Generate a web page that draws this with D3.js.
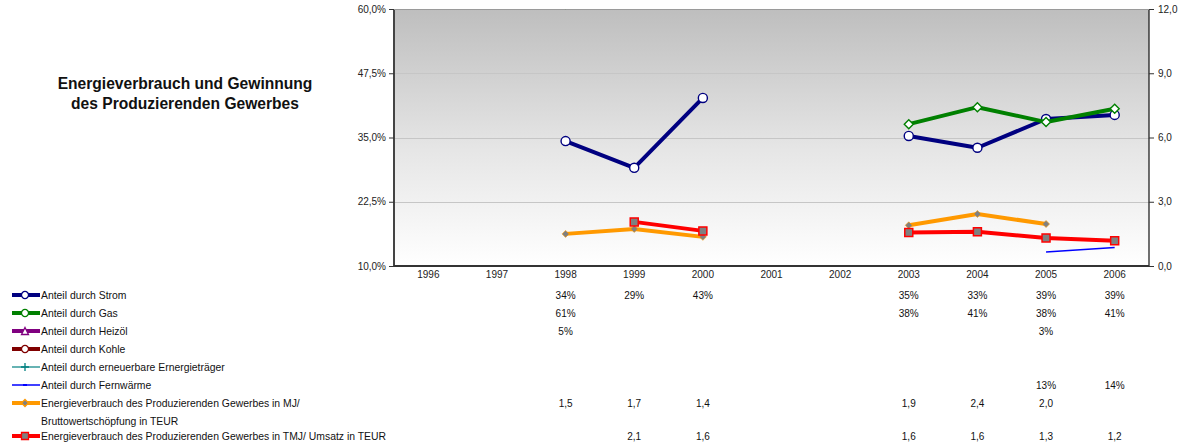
<!DOCTYPE html>
<html>
<head>
<meta charset="utf-8">
<script src="https://cdn.jsdelivr.net/npm/d3@7"></script>
<style>
  body { margin: 0; background: #fff; }
  svg { display: block; font-family: "Liberation Sans", Arial, sans-serif; }
</style>
</head>
<body>
<script>
// data (null = no value)
var years = ['1996', '1997', '1998', '1999', '2000', '2001', '2002', '2003', '2004', '2005', '2006'];
var strom = [null, null, 34.3, 29.1, 42.7, null, null, 35.3, 33.0, 38.6, 39.4];
var gas = [null, null, 61.0, null, null, null, null, 37.6, 40.9, 38.0, 40.6];
var heizoel = [null, null, 5.0, null, null, null, null, null, null, 3.0, null];
var kohle = [null, null, null, null, null, null, null, null, null, null, null];
var erneuerbar = [null, null, null, null, null, null, null, null, null, null, null];
var fernwaerme = [null, null, null, null, null, null, null, null, null, 12.7, 13.6];
var mjBws = [null, null, 1.5, 1.73, 1.36, null, null, 1.9, 2.43, 1.96, null];
var tmjUmsatz = [null, null, null, 2.06, 1.64, null, null, 1.56, 1.6, 1.31, 1.18];
var leftTicks = [10, 22.5, 35, 47.5, 60];
var rightTicks = [0, 3, 6, 9, 12];

var series = [
  { name: ['Anteil durch Strom'], values: strom, axis: 'l', color: '#000080', width: 4, marker: 'circle', mfill: '#fff', fmt: 'pct' },
  { name: ['Anteil durch Gas'], values: gas, axis: 'l', color: '#008000', width: 4, marker: 'diamond', mfill: '#fff', fmt: 'pct' },
  { name: ['Anteil durch Heizöl'], values: heizoel, axis: 'l', color: '#800080', width: 4, marker: 'triangle', mfill: '#fff', fmt: 'pct' },
  { name: ['Anteil durch Kohle'], values: kohle, axis: 'l', color: '#800000', width: 4, marker: 'circle', mfill: '#fff', fmt: 'pct' },
  { name: ['Anteil durch erneuerbare Ernergieträger'], values: erneuerbar, axis: 'l', color: '#008080', width: 1.2, marker: 'plus', mfill: 'none', fmt: 'pct' },
  { name: ['Anteil durch Fernwärme'], values: fernwaerme, axis: 'l', color: '#0000ff', width: 1.5, marker: 'dash', mfill: 'none', fmt: 'pct' },
  { name: ['Energieverbrauch des Produzierenden Gewerbes in MJ/', 'Bruttowertschöpfung in TEUR'], values: mjBws, axis: 'r', color: '#ff9900', width: 4, marker: 'diamond', mfill: '#808080', fmt: 'dec' },
  { name: ['Energieverbrauch des Produzierenden Gewerbes in TMJ/ Umsatz in TEUR'], values: tmjUmsatz, axis: 'r', color: '#ff0000', width: 4, marker: 'square', mfill: '#808080', fmt: 'dec' }
];
var rowY = [295, 313, 331, 349, 367, 385, 403, 436];

var W = 1180, H = 447;
var m = { left: 394, right: 1149, top: 9, bottom: 266 };

var svg = d3.select('body').append('svg')
  .attr('width', W)
  .attr('height', H);

var x = d3.scaleBand().domain(years).range([m.left, m.right]);
var yL = d3.scaleLinear().domain([10, 60]).range([m.bottom, m.top]);
var yR = d3.scaleLinear().domain([0, 12]).range([m.bottom, m.top]);

var defs = svg.append('defs');
var grad = defs.append('linearGradient')
  .attr('id', 'bg')
  .attr('x1', 0).attr('y1', 0).attr('x2', 0).attr('y2', 1);
grad.append('stop').attr('offset', 0).attr('stop-color', '#bebebe');
grad.append('stop').attr('offset', 0.55).attr('stop-color', '#e6e6e6');
grad.append('stop').attr('offset', 1).attr('stop-color', '#ffffff');
defs.append('clipPath').attr('id', 'clip')
  .append('rect')
  .attr('x', m.left).attr('y', m.top)
  .attr('width', m.right - m.left).attr('height', m.bottom - m.top);

// plot background
svg.append('rect')
  .attr('x', m.left).attr('y', m.top)
  .attr('width', m.right - m.left).attr('height', m.bottom - m.top)
  .attr('fill', 'url(#bg)');

// grid
svg.append('g').selectAll('line')
  .data(leftTicks.slice(1))
  .enter().append('line')
  .attr('x1', m.left).attr('x2', m.right)
  .attr('y1', function (d) { return Math.round(yL(d)) + 0.5; })
  .attr('y2', function (d) { return Math.round(yL(d)) + 0.5; })
  .attr('stroke', '#c6c6c6')
  .attr('stroke-width', 1);

// axes
var fmtL = function (d) { return d3.format('.1f')(d).replace('.', ',') + '%'; };
var fmtR = function (d) { return d3.format('.1f')(d).replace('.', ','); };

var axL = svg.append('g')
  .attr('transform', 'translate(' + m.left + ',0)')
  .call(d3.axisLeft(yL).tickValues(leftTicks).tickFormat(fmtL).tickSize(5).tickPadding(3));
var axR = svg.append('g')
  .attr('transform', 'translate(' + m.right + ',0)')
  .call(d3.axisRight(yR).tickValues(rightTicks).tickFormat(fmtR).tickSize(5).tickPadding(4));
var axB = svg.append('g')
  .attr('transform', 'translate(0,' + m.bottom + ')')
  .call(d3.axisBottom(x).tickSize(0).tickPadding(5));

[axL, axR, axB].forEach(function (g) {
  g.selectAll('text')
    .attr('font-size', 10)
    .attr('font-family', '"Liberation Sans", Arial, sans-serif')
    .attr('fill', '#222');
  g.selectAll('line').attr('stroke', '#333');
});
axL.select('.domain').attr('stroke', '#444').attr('stroke-width', 2).attr('d', 'M0,' + m.top + 'V' + m.bottom);
axR.select('.domain').attr('stroke', '#111').attr('stroke-width', 1.2).attr('d', 'M0,' + m.top + 'V' + m.bottom);
axB.select('.domain').attr('stroke', '#333').attr('stroke-width', 2).attr('d', 'M' + m.left + ',0H' + m.right);
svg.append('line')
  .attr('x1', m.left).attr('x2', m.right)
  .attr('y1', m.top + 0.5).attr('y2', m.top + 0.5)
  .attr('stroke', '#9a9a9a');

// markers
function markerPath(type, s) {
  if (type === 'circle') return d3.symbol(d3.symbolCircle, s * s * 0.8)();
  if (type === 'diamond') return 'M0,' + (-s / 2) + 'L' + (s / 2) + ',0L0,' + (s / 2) + 'L' + (-s / 2) + ',0Z';
  if (type === 'square') return 'M' + (-s / 2) + ',' + (-s / 2) + 'h' + s + 'v' + s + 'h' + (-s) + 'Z';
  if (type === 'triangle') return 'M0,' + (-s / 2) + 'L' + (s / 2) + ',' + (s / 2) + 'L' + (-s / 2) + ',' + (s / 2) + 'Z';
  if (type === 'plus') return 'M0,' + (-s / 2) + 'V' + (s / 2) + 'M' + (-s / 2) + ',0H' + (s / 2);
  return 'M' + (-s / 3) + ',0H' + (s / 3);
}
function markerSize(d) {
  if (d.marker === 'circle') return 9;
  if (d.marker === 'diamond') return d.mfill === '#fff' ? 9 : 7;
  if (d.marker === 'square') return 8;
  return 8;
}

var plot = svg.append('g').attr('clip-path', 'url(#clip)');
series.forEach(function (s) {
  var y = s.axis === 'l' ? yL : yR;
  var pts = s.values.map(function (v, i) { return { year: years[i], v: v }; });
  var line = d3.line()
    .defined(function (d) { return d.v !== null; })
    .x(function (d) { return x(d.year) + x.bandwidth() / 2; })
    .y(function (d) { return y(d.v); });
  plot.append('path')
    .datum(pts)
    .attr('d', line)
    .attr('fill', 'none')
    .attr('stroke', s.color)
    .attr('stroke-width', s.width)
    .attr('stroke-linejoin', 'round');
  if (s.marker === 'dash') return;
  plot.selectAll(null)
    .data(pts.filter(function (d) { return d.v !== null; }))
    .enter().append('path')
    .attr('transform', function (d) { return 'translate(' + (x(d.year) + x.bandwidth() / 2) + ',' + y(d.v) + ')'; })
    .attr('d', markerPath(s.marker, markerSize(s)))
    .attr('fill', s.mfill)
    .attr('stroke', s.color)
    .attr('stroke-width', s.mfill === '#808080' ? (s.marker === 'square' ? 1.5 : 1) : 1.4)
    .attr('stroke-opacity', s.mfill === '#808080' && s.marker === 'diamond' ? 0.6 : 1);
});

// title
var title = svg.append('text')
  .attr('text-anchor', 'middle')
  .attr('font-size', 15.6)
  .attr('font-weight', 'bold')
  .attr('fill', '#111');
title.append('tspan').attr('x', 185).attr('y', 89).text('Energieverbrauch und Gewinnung');
title.append('tspan').attr('x', 185).attr('y', 109).text('des Produzierenden Gewerbes');

// legend + data table
var fPct = function (v) { return d3.format('.0f')(v) + '%'; };
var fDec = function (v) { return d3.format('.1f')(v).replace('.', ','); };

var rows = svg.append('g').selectAll('g')
  .data(series)
  .enter().append('g')
  .attr('transform', function (d, i) { return 'translate(0,' + rowY[i] + ')'; });

rows.append('line')
  .attr('x1', 12).attr('x2', 40)
  .attr('y1', 0).attr('y2', 0)
  .attr('stroke', function (d) { return d.color; })
  .attr('stroke-width', function (d) { return d.width; });
rows.append('path')
  .attr('transform', 'translate(25,0)')
  .attr('d', function (d) {
    var sz = d.marker === 'plus' ? 8 : d.marker === 'dash' ? 6 : 7;
    return markerPath(d.marker === 'diamond' && d.mfill === '#fff' ? 'circle' : d.marker, sz);
  })
  .attr('fill', function (d) { return d.mfill; })
  .attr('stroke', function (d) { return d.color; })
  .attr('stroke-width', function (d) { return d.marker === 'dash' ? 2 : 1.3; });
rows.each(function (d) {
  var t = d3.select(this).append('text')
    .attr('x', 41)
    .attr('font-size', 10.4)
    .attr('fill', '#111');
  d.name.forEach(function (n, k) {
    t.append('tspan').attr('x', 41).attr('y', 3.5 + k * 18).text(n);
  });
});
rows.selectAll('.val')
  .data(function (d) {
    return d.values.map(function (v, i) { return { v: v, year: years[i], fmt: d.fmt }; })
      .filter(function (e) { return e.v !== null; });
  })
  .enter().append('text')
  .attr('class', 'val')
  .attr('x', function (e) { return x(e.year) + x.bandwidth() / 2; })
  .attr('y', 3.5)
  .attr('text-anchor', 'middle')
  .attr('font-size', 10)
  .attr('font-family', '"Liberation Sans Narrow", "Liberation Sans", Arial, sans-serif')
  .attr('fill', '#111')
  .text(function (e) { return e.fmt === 'pct' ? fPct(e.v) : fDec(e.v); });
</script>
</body>
</html>
